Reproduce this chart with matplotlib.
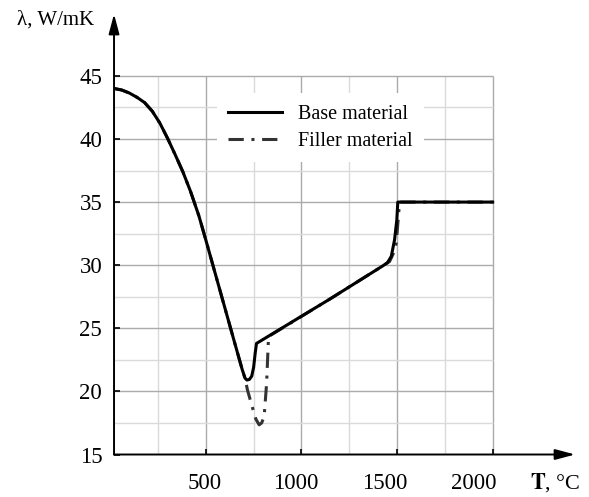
import numpy as np
import matplotlib.pyplot as plt

plt.rcParams['font.family'] = ['Liberation Serif', 'DejaVu Serif']
plt.rcParams['mathtext.fontset'] = 'stix'

# thermal conductivity
base_T = [20, 60, 100, 140, 180, 220, 260, 300, 340, 380, 420, 464, 500, 550, 600, 650,
          690, 705, 715, 728, 740, 750, 758, 765, 1147, 1426, 1450, 1470, 1487, 1499, 1504, 2000]
base_lam = [44.0, 43.88, 43.64, 43.3, 42.88, 42.2, 41.25, 40.05, 38.75, 37.4, 35.85, 33.9, 32.0, 29.3, 26.6, 23.9,
            21.75, 21.05, 20.9, 20.95, 21.2, 21.9, 23.0, 23.8, 27.3, 29.95, 30.2, 30.7, 32.0, 33.6, 35.0, 35.0]

filler_T = [20, 60, 100, 140, 180, 220, 260, 300, 340, 380, 420, 464, 500, 550, 600, 650, 690, 705,
            718, 733, 748, 762, 779, 792, 805, 818, 828, 1147, 1426, 1461, 1480, 1496, 1510, 1514, 2000]
filler_lam = [44.0, 43.88, 43.64, 43.3, 42.88, 42.2, 41.25, 40.05, 38.75, 37.4, 35.85, 33.9, 32.0, 29.3, 26.6, 23.9,
              21.75, 21.05, 20.1, 19.3, 18.5, 17.8, 17.35, 17.5, 18.0, 20.65, 24.35, 27.3, 29.95, 30.29, 30.9,
              31.74, 34.38, 35.0, 35.0]

x_ticks = [500, 1000, 1500, 2000]
x_ticklabels = ['500', '1000', '1500', '2000']
x_label_pos = [496, 969, 1436, 1903]
y_ticks = [15, 20, 25, 30, 35, 40, 45]
grid_x = [250, 500, 750, 1000, 1250, 1500, 1750, 2000]
grid_y = [17.5, 20, 22.5, 25, 27.5, 30, 32.5, 35, 37.5, 40, 42.5, 45]

fig = plt.figure(figsize=(5.89, 4.97), dpi=100)
ax = fig.add_axes([0.1936, 0.0855, 0.7827, 0.8863])
ax.set_xlim(20, 2431)
ax.set_ylim(15, 49.9)

# grid only inside the data box
major_c, minor_c = '#ababab', '#dadada'
ax.vlines(grid_x, 15, 45, colors=[major_c if g % 500 == 0 else minor_c for g in grid_x], lw=1.0, zorder=1)
ax.hlines(grid_y, 20, 2000, colors=[major_c if g % 5 == 0 else minor_c for g in grid_y], lw=1.0, zorder=1)

for s in ax.spines.values():
    s.set_visible(False)
arrow = dict(arrowstyle='-|>,head_length=1.2,head_width=0.32', lw=1.4, color='k',
             shrinkA=0, shrinkB=0, mutation_scale=10)
ax.annotate('', xy=(1, 0), xytext=(0, 0), xycoords='axes fraction', arrowprops=arrow)
ax.annotate('', xy=(0, 1), xytext=(0, 0), xycoords='axes fraction', arrowprops=arrow)

l2, = ax.plot(filler_T, filler_lam, color='#333333', lw=2.2, ls=(0, (5, 2.5, 1, 2.5)),
              label='Filler material', zorder=3)
l1, = ax.plot(base_T, base_lam, color='k', lw=2.2, solid_joinstyle='round',
              label='Base material', zorder=4)

ax.set_xticks(x_ticks, labels=[''] * len(x_ticks))
ax.tick_params(axis='x', direction='in', length=4, width=1.2, labelbottom=False)
ax.set_yticks(y_ticks)
ax.tick_params(axis='y', direction='in', length=4.5, width=1.2, labelsize=16.5, pad=8.5)

for pos, lab in zip(x_label_pos, x_ticklabels):
    ax.annotate(lab, xy=(pos, 15), xytext=(0, -24.5), textcoords='offset points',
                ha='center', va='baseline', fontsize=16.5, annotation_clip=False)
ax.annotate(r'$\mathbf{T}$, °C', xy=(2326, 15), xytext=(0, -24.5), textcoords='offset points',
            ha='center', va='baseline', fontsize=16, annotation_clip=False)
fig.text(56 / 589, 1 - 20 / 497, 'λ, W/mK', ha='center', va='center', fontsize=15)

ax.legend(handles=[l1, l2], loc='center', bbox_to_anchor=(0.448, 0.742), frameon=True,
          fancybox=False, edgecolor='none', facecolor='white', framealpha=1,
          borderpad=0.55, handlelength=2.7, handletextpad=0.8, labelspacing=0.4, fontsize=14.5)

fig.savefig('out.png', dpi=100)
